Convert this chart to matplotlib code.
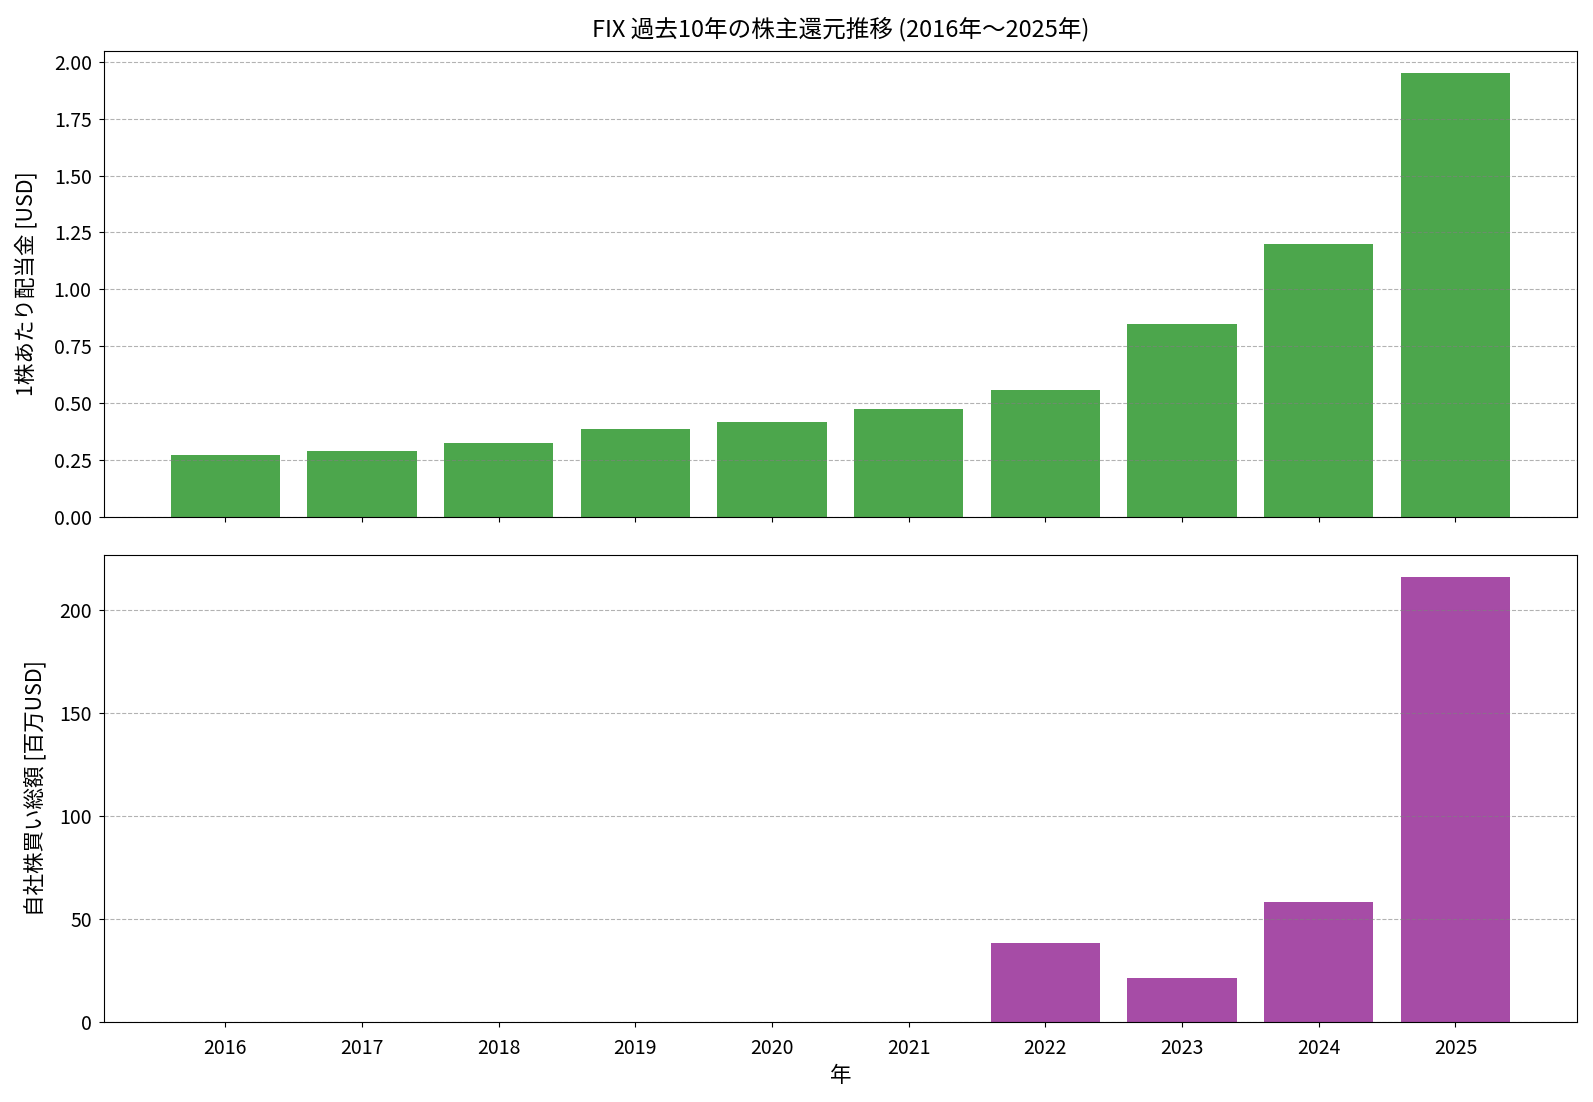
import numpy as np
import matplotlib
matplotlib.use("Agg")
import matplotlib.pyplot as plt

plt.rcParams['font.family'] = ['Noto Sans CJK JP', 'DejaVu Sans']

# データ
years = [2016, 2017, 2018, 2019, 2020, 2021, 2022, 2023, 2024, 2025]
dividends = [0.275, 0.29, 0.325, 0.39, 0.42, 0.475, 0.56, 0.85, 1.20, 1.95]
buybacks = [0, 0, 0, 0, 0, 0, 38.0, 21.0, 58.0, 216.0]

fig, (ax1, ax2) = plt.subplots(2, 1, figsize=(15.93, 11.02), dpi=100, sharex=True)

ax1.bar(years, dividends, color='green', alpha=0.7)
ax1.set_ylabel('1株あたり配当金 [USD]', fontsize=15.5, labelpad=12)
ax1.set_title('FIX 過去10年の株主還元推移 (2016年〜2025年)', fontsize=17, pad=10)
ax1.grid(axis='y', linestyle='--', color='gray', alpha=0.6)
ax1.tick_params(labelsize=14)
ax1.tick_params(axis='y', pad=5)

ax2.bar(years, buybacks, color='purple', alpha=0.7)
ax2.set_ylabel('自社株買い総額 [百万USD]', fontsize=15.5, labelpad=9)
ax2.set_xlabel('年', fontsize=15.5, labelpad=4)
ax2.grid(axis='y', linestyle='--', color='gray', alpha=0.6)
ax2.set_xticks(years)
ax2.tick_params(labelsize=14)
ax2.tick_params(axis='x', pad=8.5)
ax2.tick_params(axis='y', pad=5)

plt.subplots_adjust(left=0.065, right=0.99, top=0.954, bottom=0.073, hspace=0.08)
plt.savefig('out.png')
